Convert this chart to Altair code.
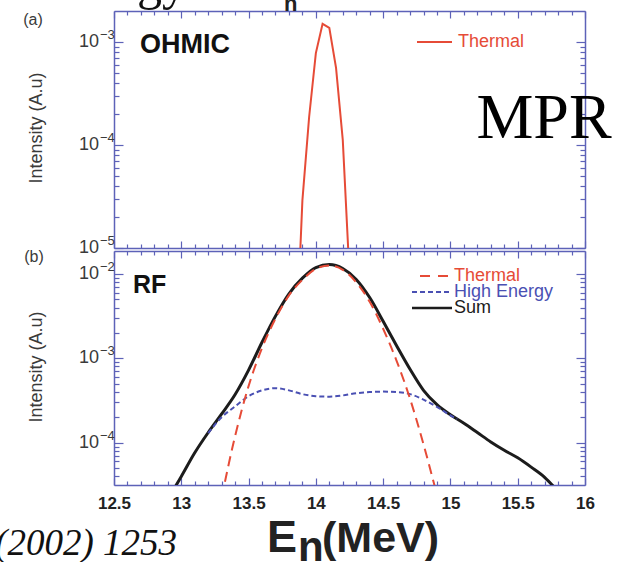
import altair as alt
import pandas as pd

# ---------------- spectra ----------------
# (a) ohmic discharge: thermal component only
ohmic_energy = [13.885, 13.90, 13.95, 14.00, 14.05, 14.10, 14.15, 14.20, 14.24]
ohmic_thermal = [1.0e-5, 2.9e-5, 1.87e-4, 7.8e-4, 1.50e-3, 1.37e-3, 5.6e-4, 1.12e-4, 1.0e-5]

# (b) RF heated discharge
rf_thermal_energy = [13.3, 13.4, 13.5, 13.6, 13.7, 13.8, 13.9, 14.0, 14.1, 14.2,
                     14.3, 14.4, 14.5, 14.6, 14.7, 14.8, 14.9]
rf_thermal = [2.24e-5, 1.20e-4, 4.68e-4, 1.32e-3, 2.95e-3, 5.56e-3, 8.51e-3, 1.15e-2, 1.26e-2, 1.12e-2,
              7.94e-3, 4.68e-3, 2.24e-3, 9.33e-4, 3.31e-4, 9.55e-5, 2.40e-5]

rf_high_energy_energy = [13.2, 13.3, 13.4, 13.5, 13.6, 13.7, 13.8, 13.9, 14.0, 14.1,
                         14.2, 14.3, 14.4, 14.5, 14.6, 14.7, 14.8, 14.9, 15.0, 15.05]
rf_high_energy = [1.30e-4, 2.00e-4, 2.69e-4, 3.55e-4, 4.17e-4, 4.42e-4, 4.17e-4, 3.76e-4, 3.55e-4, 3.51e-4,
                  3.63e-4, 3.85e-4, 3.98e-4, 4.03e-4, 3.98e-4, 3.76e-4, 3.24e-4, 2.66e-4, 2.11e-4, 1.91e-4]

rf_sum_energy = [12.9, 13.0, 13.1, 13.2, 13.3, 13.4, 13.5, 13.6, 13.7, 13.8,
                 13.9, 14.0, 14.1, 14.2, 14.3, 14.4, 14.5, 14.6, 14.7, 14.8,
                 14.9, 15.0, 15.1, 15.2, 15.3, 15.4, 15.5, 15.6, 15.7, 15.8]
rf_sum = [2.14e-5, 3.98e-5, 7.59e-5, 1.32e-4, 2.19e-4, 3.72e-4, 7.24e-4, 1.55e-3, 3.16e-3, 5.82e-3,
          8.91e-3, 1.19e-2, 1.29e-2, 1.16e-2, 8.61e-3, 5.25e-3, 2.75e-3, 1.41e-3, 7.41e-4, 4.17e-4,
          2.82e-4, 2.14e-4, 1.70e-4, 1.32e-4, 1.02e-4, 8.13e-5, 6.61e-5, 5.13e-5, 3.89e-5, 2.63e-5]

# ---------------- axes / labels ----------------
x_ticks = [round(12.5 + 0.1 * i, 1) for i in range(36)]

a_decades = [1e-5, 1e-4, 1e-3]
a_exponents = ["\u22125", "\u22124", "\u22123"]
b_decades = [1e-4, 1e-3, 1e-2]
b_exponents = ["\u22124", "\u22123", "\u22122"]

legend_a = ["Thermal"]
legend_b = ["Thermal", "High Energy", "Sum"]
panel_tags = ["(a)", "(b)"]
panel_names = ["OHMIC", "RF"]
y_title = "Intensity (A.u)"

# ---------------- style ----------------
SANS = "Liberation Sans"
SERIF = "Liberation Serif"
AX = "#5d62b8"
RED = "#e64b37"
BLUE = "#4a50b3"
BLACK = "#1c1c1c"
TXT = "#3a3a3a"

W, H = 471, 474
A_RANGE = [237, 0]          # upper panel rows
B_RANGE = [474, 240]        # lower panel rows
A_DOMAIN = [1e-5, 2.0e-3]
B_DOMAIN = [3.15e-5, 1.87e-2]

X_MAJOR = "abs(datum.value * 2 - round(datum.value * 2)) < 0.001"
Y_MAJOR = "abs(log(datum.value) / LN10 - round(log(datum.value) / LN10)) < 0.01"


def log_ticks(lo, hi):
    out = []
    for e in range(-7, 0):
        for m in range(1, 10):
            v = float(f"{m}e{e}")
            if lo * 0.999 <= v <= hi * 0.999:
                out.append(v)
    return out


a_ticks = log_ticks(*A_DOMAIN)
b_ticks = log_ticks(*B_DOMAIN)

x_scale = alt.Scale(domain=[12.5, 16], nice=False, zero=False)
ya = alt.Scale(type="log", domain=A_DOMAIN, range=A_RANGE, nice=False)
yb = alt.Scale(type="log", domain=B_DOMAIN, range=B_RANGE, nice=False)


def x_axis(orient, offset=0, labels=False):
    kw = dict(orient=orient, offset=offset, values=x_ticks, title=None, grid=False,
              domainColor=AX, domainWidth=1.5, tickColor=AX, tickWidth=1.2,
              tickSize={"condition": {"test": X_MAJOR, "value": -7}, "value": -4},
              labels=labels)
    if labels:
        kw.update(labelExpr=f"{X_MAJOR} ? '' + datum.value : ''", labelFont=SANS,
                  labelFontSize=17, labelFontWeight="bold", labelColor="#222222",
                  labelPadding=17, labelFlush=False, labelOverlap=False)
    return alt.Axis(**kw)


def y_axis(orient, ticks):
    return alt.Axis(orient=orient, values=ticks, title=None, grid=False, labels=False,
                    domainColor=AX, domainWidth=1.5, tickColor=AX, tickWidth=1.2,
                    tickSize={"condition": {"test": Y_MAJOR, "value": -9}, "value": -5})


one = pd.DataFrame({"k": [0]})


def note(text, x, y, **mark):
    return alt.Chart(one).mark_text(**mark).encode(
        x=alt.value(x), y=alt.value(y), text=alt.value(text))


def key_line(x1, x2, y, **mark):
    return alt.Chart(one).mark_rule(**mark).encode(
        x=alt.value(x1), x2=alt.value(x2), y=alt.value(y))


def decade_labels(decades, exps, yscale):
    df = pd.DataFrame({"v": decades, "base": ["10"] * len(decades), "exp": exps})
    base = alt.Chart(df).mark_text(align="right", baseline="middle", font=SANS,
                                   fontSize=18, color=TXT).encode(
        x=alt.value(-15), y=alt.Y("v:Q", scale=yscale, axis=None), text="base:N")
    sup = alt.Chart(df).mark_text(align="left", baseline="middle", font=SANS,
                                  fontSize=13, color=TXT, dy=-7).encode(
        x=alt.value(-14), y=alt.Y("v:Q", scale=yscale, axis=None), text="exp:N")
    return [base, sup]


ohmic = pd.DataFrame({"E": ohmic_energy, "I": ohmic_thermal})
rf_th = pd.DataFrame({"E": rf_thermal_energy, "I": rf_thermal})
rf_he = pd.DataFrame({"E": rf_high_energy_energy, "I": rf_high_energy})
rf_sm = pd.DataFrame({"E": rf_sum_energy, "I": rf_sum})

# ---------------- upper panel: ohmic ----------------
a_line = alt.Chart(ohmic).mark_line(color=RED, strokeWidth=2, clip=True).encode(
    x=alt.X("E:Q", scale=x_scale, axis=x_axis("top")),
    y=alt.Y("I:Q", scale=ya, axis=y_axis("left", a_ticks)))
a_frame = alt.Chart(ohmic).mark_line(opacity=0).encode(
    x=alt.X("E:Q", scale=x_scale, axis=x_axis("bottom", offset=-(H - 237))),
    y=alt.Y("I:Q", scale=ya, axis=y_axis("right", a_ticks)))

# ---------------- lower panel: RF ----------------
b_sum = alt.Chart(rf_sm).mark_line(color=BLACK, strokeWidth=3, clip=True,
                                   interpolate="monotone").encode(
    x=alt.X("E:Q", scale=x_scale, axis=x_axis("bottom", labels=True)),
    y=alt.Y("I:Q", scale=yb, axis=y_axis("left", b_ticks)))
b_high = alt.Chart(rf_he).mark_line(color=BLUE, strokeWidth=2, strokeDash=[5, 3], clip=True,
                                    interpolate="monotone").encode(
    x=alt.X("E:Q", scale=x_scale, axis=x_axis("top", offset=-240)),
    y=alt.Y("I:Q", scale=yb, axis=y_axis("right", b_ticks)))
b_thermal = alt.Chart(rf_th).mark_line(color=RED, strokeWidth=2, strokeDash=[10, 6], clip=True,
                                       interpolate="monotone").encode(
    x=alt.X("E:Q", scale=x_scale, axis=None),
    y=alt.Y("I:Q", scale=yb, axis=None))

# ---------------- annotations ----------------
BL = dict(baseline="alphabetic")
texts = [
    note(panel_tags[0], -81, 9, font=SANS, fontSize=16, color=TXT, align="center", baseline="middle"),
    note(panel_tags[1], -80, 246, font=SANS, fontSize=16, color=TXT, align="center", baseline="middle"),
    note(y_title, -77, 117, font=SANS, fontSize=18, color=TXT, angle=270, align="center", baseline="middle"),
    note(y_title, -77, 356, font=SANS, fontSize=18, color=TXT, angle=270, align="center", baseline="middle"),
    note(panel_names[0], 26, 42, font=SANS, fontSize=27, fontWeight="bold", color="#111111", align="left", **BL),
    note(panel_names[1], 19, 282, font=SANS, fontSize=25, fontWeight="bold", color="#111111", align="left", **BL),
    # legends
    key_line(303, 338, 31, color=RED, strokeWidth=2),
    note(legend_a[0], 344, 31, font=SANS, fontSize=18, color=RED, align="left", baseline="middle"),
    key_line(306, 334, 265, color=RED, strokeWidth=2, strokeDash=[10, 8]),
    note(legend_b[0], 340, 265, font=SANS, fontSize=18, color=RED, align="left", baseline="middle"),
    key_line(298, 338, 281, color=BLUE, strokeWidth=2, strokeDash=[5, 3]),
    note(legend_b[1], 340, 281, font=SANS, fontSize=18, color=BLUE, align="left", baseline="middle"),
    key_line(298, 338, 297, color=BLACK, strokeWidth=2.5),
    note(legend_b[2], 340, 297, font=SANS, fontSize=18, color=BLACK, align="left", baseline="middle"),
    # x axis title E_n(MeV)
    note("E", 153, 541, font=SANS, fontSize=45, fontWeight="bold", color="#222222", align="left", **BL),
    note("n", 184, 550, font=SANS, fontSize=42, fontWeight="bold", color="#222222", align="left", **BL),
    note("(MeV)", 208, 541, font=SANS, fontSize=43, fontWeight="bold", color="#222222", align="left", **BL),
    # surrounding page text (partly outside the page area)
    note("Energy", 73, -12, font=SERIF, fontSize=50, color="#111111", align="right", **BL),
    note("n", 170, 0, font=SANS, fontSize=22, fontWeight="bold", color="#222222", align="left", **BL),
    note("MPR", 430, 127, font=SERIF, fontSize=64, color="#000000", align="center", **BL),
    note("(2002) 1253", 63, 544, font=SERIF, fontSize=37, fontStyle="italic", color="#111111", align="right", **BL),
]

labels = decade_labels(a_decades, a_exponents, ya) + decade_labels(b_decades, b_exponents, yb)

chart = alt.layer(
    a_line, a_frame, b_sum, b_high, b_thermal, *labels, *texts
).resolve_scale(
    y="independent"
).resolve_axis(
    x="independent", y="independent"
).properties(
    width=W, height=H,
    autosize=alt.AutoSizeParams(type="none"),
    padding={"left": 114, "top": 11, "right": 39, "bottom": 77},
    background="white",
).configure_view(stroke=None)

chart.save("out.html", embed_options={"renderer": "svg", "actions": False})
